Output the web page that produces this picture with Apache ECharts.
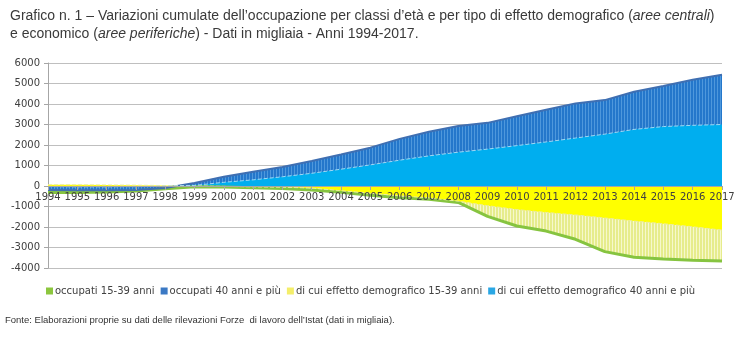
<!DOCTYPE html>
<html>
<head>
<meta charset="utf-8">
<script src="https://cdn.jsdelivr.net/npm/echarts@6/dist/echarts.min.js"></script>
<style>
  html, body { margin: 0; padding: 0; background: #fff; }
  #chart { width: 750px; height: 337px; }
</style>
</head>
<body>
<div id="chart"></div>
<script>
// Anni
const years = ['1994','1995','1996','1997','1998','1999','2000','2001','2002','2003','2004','2005',
               '2006','2007','2008','2009','2010','2011','2012','2013','2014','2015','2016','2017'];
// Variazioni cumulate, migliaia
const occupati1539 = [-320,-320,-290,-240,-130,-40,-50,-80,-120,-200,-300,-450,
                      -570,-650,-800,-1480,-1950,-2200,-2600,-3200,-3480,-3560,-3620,-3660];
const occupati40 = [-200,-210,-210,-190,-100,150,450,700,930,1220,1540,1870,
                    2300,2650,2930,3080,3400,3720,4030,4190,4600,4880,5180,5430];
const demografico1539 = [60,60,50,40,20,0,-20,-40,-60,-100,-230,-350,
                         -480,-580,-740,-960,-1150,-1290,-1410,-1560,-1710,-1840,-1990,-2150];
const demografico40 = [-30,-40,-40,-30,-10,30,180,300,450,620,820,1030,
                       1260,1470,1650,1800,1970,2150,2340,2530,2760,2900,2960,3000];
const yTicks = { min: -4000, max: 6000, step: 1000 };

const names = ['occupati 15-39 anni', 'occupati 40 anni e più',
               'di cui effetto demografico 15-39 anni', 'di cui effetto demografico 40 anni e più'];

// vertical-stripe fills
function stripes(base, line, period) {
  const c = document.createElement('canvas');
  c.width = period; c.height = 8;
  const g = c.getContext('2d');
  g.fillStyle = base; g.fillRect(0, 0, period, 8);
  g.fillStyle = line; g.fillRect(0, 0, 1, 8);
  return { image: c, repeat: 'repeat' };
}

const sans = 'DejaVu Sans';
const arial = 'Liberation Sans';
const grid = { left: 48, right: 28, top: 63, bottom: 69 };
const plotH = 337 - grid.top - grid.bottom;
// distance of the zero line from the bottom of the plot
const zeroOffset = plotH * (0 - yTicks.min) / (yTicks.max - yTicks.min);

const chart = echarts.init(document.getElementById('chart'), null, { renderer: 'canvas' });

chart.setOption({
  animation: false,
  backgroundColor: '#ffffff',
  title: {
    left: 5, top: 2,
    text: '{n|Grafico n. 1 – Variazioni cumulate dell\u2019occupazione per classi d\u2019età e per tipo di effetto demografico (}{i|aree centrali}{n|)}\n' +
          '{n|e economico (}{i|aree periferiche}{n|) - Dati in migliaia - Anni 1994-2017.}',
    textStyle: {
      fontWeight: 'normal',
      rich: {
        n: { fontFamily: arial, fontSize: 14, fontWeight: 'normal', color: '#3a3a3a', lineHeight: 18 },
        i: { fontFamily: arial, fontSize: 14, fontWeight: 'normal', color: '#3a3a3a', fontStyle: 'italic', lineHeight: 18 }
      }
    }
  },
  legend: {
    left: 41, top: 281,
    itemWidth: 7, itemHeight: 7, itemGap: 6,
    icon: 'rect',
    textStyle: { fontFamily: sans, fontSize: 10, color: '#404040', padding: [0, 0, 0, -3] },
    data: [
      { name: names[0], itemStyle: { color: '#8cc63e' } },
      { name: names[1], itemStyle: { color: '#3b79c4' } },
      { name: names[2], itemStyle: { color: '#f4ee6a' } },
      { name: names[3], itemStyle: { color: '#2aa7e4' } }
    ]
  },
  grid: grid,
  xAxis: {
    type: 'category',
    data: years,
    boundaryGap: false,
    offset: -zeroOffset,
    axisLine: { onZero: false, lineStyle: { color: '#a6a6a6', width: 1 } },
    axisTick: { show: true, length: 4, interval: 0, lineStyle: { color: '#a6a6a6' } },
    axisLabel: { interval: 0, fontFamily: sans, fontSize: 10, color: '#404040', margin: 6 },
    splitLine: { show: false },
    z: 10
  },
  yAxis: {
    type: 'value',
    min: yTicks.min, max: yTicks.max, interval: yTicks.step,
    axisLine: { show: true, lineStyle: { color: '#a6a6a6' } },
    axisTick: { show: true, length: 4, lineStyle: { color: '#a6a6a6' } },
    axisLabel: { fontFamily: sans, fontSize: 10, color: '#404040', margin: 8,
                 formatter: function (v) { return String(v); } },
    splitLine: { lineStyle: { color: '#bfbfbf', width: 1 } }
  },
  series: [
    {
      name: names[0], type: 'line', data: occupati1539, symbol: 'none',
      itemStyle: { color: '#8cc63e' },
      lineStyle: { color: '#86c440', width: 3 },
      areaStyle: { color: stripes('#e6ec8c', '#f6f8cc', 3), opacity: 1 }
    },
    {
      name: names[1], type: 'line', data: occupati40, symbol: 'none',
      itemStyle: { color: '#3b79c4' },
      lineStyle: { color: '#3f6fb2', width: 2 },
      areaStyle: { color: stripes('#2477cb', '#4f98dc', 3), opacity: 1 }
    },
    {
      name: names[2], type: 'line', data: demografico1539, symbol: 'none',
      itemStyle: { color: '#f4ee6a' },
      lineStyle: { color: '#ecec9c', width: 1, type: 'dashed' },
      areaStyle: { color: '#ffff00', opacity: 1 }
    },
    {
      name: names[3], type: 'line', data: demografico40, symbol: 'none',
      itemStyle: { color: '#2aa7e4' },
      lineStyle: { color: '#9fd8f4', width: 1, type: 'dashed' },
      areaStyle: { color: '#00aeef', opacity: 1 }
    }
  ],
  graphic: [{
    type: 'text', left: 5, top: 315,
    style: {
      text: 'Fonte: Elaborazioni proprie su dati delle rilevazioni Forze  di lavoro dell\u2019Istat (dati in migliaia).',
      font: '9.5px "Liberation Sans Narrow", "Liberation Sans", sans-serif',
      fill: '#333333'
    }
  }]
});
</script>
</body>
</html>
